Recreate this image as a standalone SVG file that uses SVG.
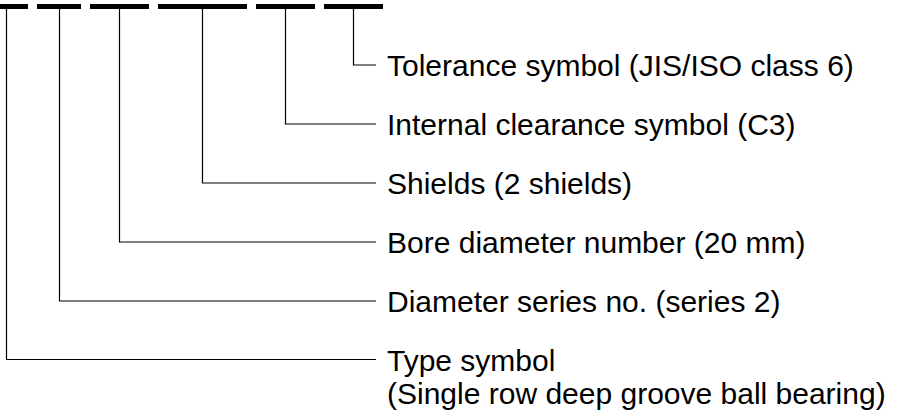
<svg xmlns="http://www.w3.org/2000/svg" width="904" height="416" viewBox="0 0 904 416">
<style>
.bar{fill:#000}
.ln{fill:none;stroke:#000;stroke-width:1.2}
.t{font-family:"Liberation Sans",Arial,Helvetica,sans-serif;font-size:30px;fill:#000}
</style>
<rect width="904" height="416" fill="#fff"/>
<g id="code">
<rect class="bar" x="0" y="4" width="28" height="5"/>
<rect class="bar" x="37" y="4" width="44" height="5"/>
<rect class="bar" x="90" y="4" width="59" height="5"/>
<rect class="bar" x="158" y="4" width="89" height="5"/>
<rect class="bar" x="256" y="4" width="59" height="5"/>
<rect class="bar" x="324" y="4" width="59" height="5"/>
</g>
<g id="connectors">
<path class="ln" d="M353.5 9V65H376"/>
<path class="ln" d="M285.5 9V124H376"/>
<path class="ln" d="M202.5 9V183H376"/>
<path class="ln" d="M119.5 9V242H376"/>
<path class="ln" d="M59.5 9V301H376"/>
<path class="ln" d="M6.5 9V359.5H376"/>
</g>
<g id="label-tolerance"><text class="t" x="387" y="76">Tolerance symbol (JIS/ISO class 6)</text></g>
<g id="label-clearance"><text class="t" x="387" y="135">Internal clearance symbol (C3)</text></g>
<g id="label-shields"><text class="t" x="387" y="194">Shields (2 shields)</text></g>
<g id="label-bore"><text class="t" x="387" y="253">Bore diameter number (20 mm)</text></g>
<g id="label-diameter"><text class="t" x="387" y="312">Diameter series no. (series 2)</text></g>
<g id="label-type"><text class="t" x="387" y="370.5">Type symbol</text><text class="t" x="387" y="403.5">(Single row deep groove ball bearing)</text></g>
</svg>
